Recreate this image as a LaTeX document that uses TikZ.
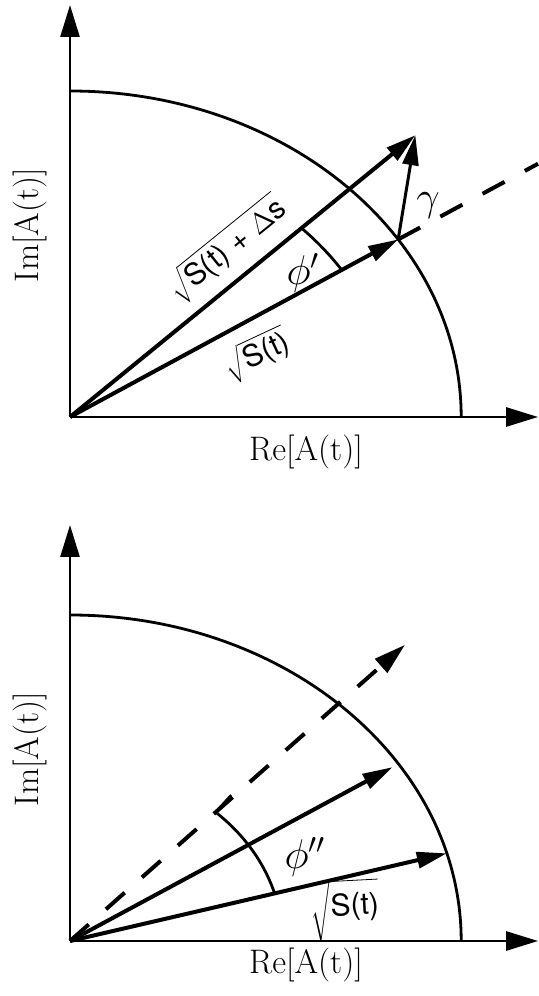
\documentclass[tikz,border=0pt]{standalone}
\usepackage{fontspec}
\setsansfont{TeX Gyre Heros}
\usetikzlibrary{arrows.meta}

\begin{document}
\begin{tikzpicture}[x=0.5pt,y=0.5pt,
    axis/.style={line width=1.4pt,-{Triangle[length=16pt,width=9.5pt]}},
    vec/.style={line width=2pt,-{Triangle[length=15pt,width=8pt]}},
    ray/.style={line width=2pt,dash pattern=on 12.5pt off 11.5pt},
    arcline/.style={line width=1.4pt},
    axlabel/.style={font=\fontsize{17}{20}\selectfont},
    veclabel/.style={font=\fontsize{15}{18}\selectfont\sffamily},
    anglabel/.style={font=\fontsize{20}{24}\selectfont}]
  \useasboundingbox (0,0) rectangle (539,996);
  % upper panel
  \begin{scope}[shift={(70,579)},xscale=1.2]
    \coordinate (O1) at (0,0);
    \coordinate (X1) at (390,0);
    \coordinate (Y1) at (0,412);
    \coordinate (P1) at (33:326);
    \coordinate (Q1) at (44.4:402.7);
    \coordinate (R1) at (33:465);
    \draw[axis] (O1) -- (X1);
    \draw[axis] (O1) -- (Y1);
    \draw[arcline] (326,0) arc[start angle=0,end angle=90,radius=326];
    \draw[ray] (P1) -- (R1);
    \draw[vec] (O1) -- (P1);
    \draw[vec] (O1) -- (Q1);
    \draw[vec,line width=1.5pt] (P1) -- (Q1);
    \draw[arcline] (33:270) arc[start angle=33,end angle=44.4,radius=270];
  \end{scope}
  \node[axlabel] (re1) at (306,544) {Re[A(t)]};
  \node[axlabel,rotate=90] (im1) at (30,771) {Im[A(t)]};
  \node[veclabel,rotate=39] (sq1) at (227,747)
    {$\sqrt{\rule[-3pt]{0pt}{15pt}\textsf{S(t) + $\Delta$s}}$};
  \node[veclabel,rotate=25] (s1) at (257,641) {$\sqrt{\textsf{S(t)}}$};
  \node[anglabel] (phi1) at (303,723) {$\phi'$};
  \node[anglabel] (gam) at (428,790) {$\gamma$};
  % lower panel
  \begin{scope}[shift={(70,55)},xscale=1.2]
    \coordinate (O2) at (0,0);
    \coordinate (X2) at (390,0);
    \coordinate (Y2) at (0,416);
    \coordinate (P2) at (15.6:326);
    \coordinate (U2) at (32.9:320);
    \coordinate (D2) at (46.7:407);
    \draw[axis] (O2) -- (X2);
    \draw[axis] (O2) -- (Y2);
    \draw[arcline] (326,0) arc[start angle=0,end angle=90,radius=326];
    \draw[ray,-{Triangle[length=16pt,width=9pt]}] (O2) -- (D2);
    \draw[vec] (O2) -- (P2);
    \draw[vec] (O2) -- (U2);
    \draw[arcline] (15.6:177) arc[start angle=15.6,end angle=46.7,radius=177]
      coordinate (A2);
    \draw[arcline] (A2) -- ++(13,17);
  \end{scope}
  \node[axlabel] (re2) at (306,31) {Re[A(t)]};
  \node[axlabel,rotate=90] (im2) at (30,247) {Im[A(t)]};
  \node[anglabel] (phi2) at (305,139) {$\phi''$};
  \node[veclabel,rotate=3] (s2) at (345,86) {$\sqrt{\rule[-10pt]{0pt}{24pt}\textsf{S(t)}}$};
\end{tikzpicture}
\end{document}
